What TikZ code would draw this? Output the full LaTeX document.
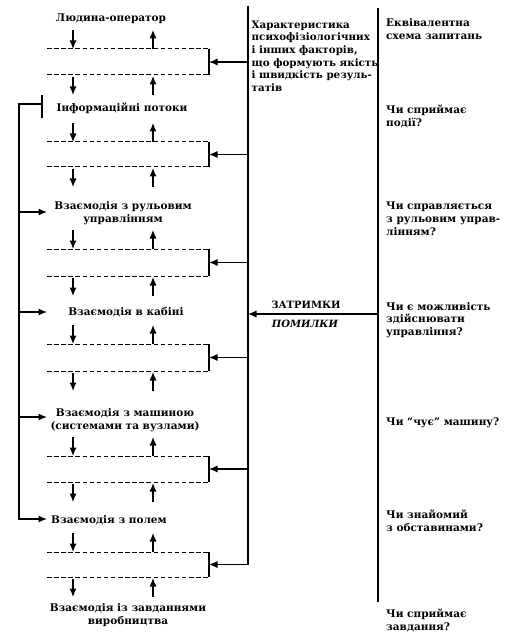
\documentclass[tikz,border=0pt]{standalone}
\usepackage{fontspec}
\setmainfont{DejaVu Serif}
\usetikzlibrary{arrows.meta}
\begin{document}
\begin{tikzpicture}[x=1pt,y=-1pt,
  ln/.style={line width=1.1pt},
  arr/.style={ln,-{Latex[length=8.5pt,width=7pt]}},
  dsh/.style={line width=1pt,dash pattern=on 4.5pt off 2.6pt},
  lbl/.style={font=\fontsize{10.5}{13}\selectfont\bfseries,align=center,inner sep=0pt},
  elbl/.style={font=\fontsize{10}{12}\selectfont\bfseries,inner sep=0pt},
  rlbl/.style={font=\fontsize{10.5}{12.6}\selectfont\bfseries,align=left,inner sep=0pt,anchor=north west},
  mlbl/.style={font=\fontsize{10.3}{12.6}\selectfont\bfseries,align=left,inner sep=0pt,anchor=north west}]
\useasboundingbox (0,0) rectangle (506,636);

% bands
\foreach \i/\yt/\yb in {1/49/75,2/142/167,3/249/276,4/344/371,5/456/482,6/552/577}{
  \coordinate (dtl\i) at (47,\yt);
  \coordinate (dtr\i) at (209,\yt);
  \coordinate (dbl\i) at (47,\yb);
  \coordinate (dbr\i) at (209,\yb);
  \draw[dsh] (dtl\i) -- (dtr\i);
  \draw[dsh] (dbl\i) -- (dbr\i);
  \draw[ln] (dtr\i) -- (dbr\i);
  \coordinate (bm\i) at (209,{(\yt+\yb)/2});
  \coordinate (mm\i) at (248,{(\yt+\yb)/2});
  \draw[arr] (mm\i) -- (bm\i);
  % arrows above
  \coordinate (ad\i) at (73,\yt-19);
  \coordinate (adt\i) at (73,\yt);
  \coordinate (au\i) at (153,\yt);
  \coordinate (aut\i) at (153,\yt-19);
  \draw[arr] (ad\i) -- (adt\i);
  \draw[arr] (au\i) -- (aut\i);
  % arrows below
  \coordinate (bd\i) at (73,\yb+2);
  \coordinate (bdt\i) at (73,\yb+20);
  \coordinate (bu\i) at (153,\yb+20);
  \coordinate (but\i) at (153,\yb+1);
  \draw[arr] (bd\i) -- (bdt\i);
  \draw[arr] (bu\i) -- (but\i);
}

% left labels
\node[lbl] (t0) at (111,19) {Людина-оператор};
\node[lbl] (t1) at (122,108) {Інформаційні потоки};
\node[lbl] (t2) at (123,213) {Взаємодія з рульовим\\управлінням};
\node[lbl] (t3) at (126,312) {Взаємодія в кабіні};
\node[lbl] (t4) at (125,420) {Взаємодія з машиною\\(системами та вузлами)};
\node[lbl] (t5) at (109,520) {Взаємодія з полем};
\node[lbl] (t6) at (128,615) {Взаємодія із завданнями\\виробництва};

% vertical lines
\coordinate (mtop) at (248,6);
\draw[ln] (mtop) -- (mm6);
\coordinate (rtop) at (378,8);
\coordinate (rbot) at (378,602);
\draw[ln] (rtop) -- (rbot);

% delays / errors
\coordinate (rz) at (378,314);
\coordinate (mz) at (248,314);
\draw[arr] (rz) -- (mz);
\node[elbl] (zat) at (306,305) {ЗАТРИМКИ};
\node[elbl,font=\fontsize{10}{12}\selectfont\bfseries\itshape] (pom) at (305,324) {ПОМИЛКИ};

% left feedback
\coordinate (tk1) at (42,95);
\coordinate (tk2) at (42,118);
\draw[ln] (tk1) -- (tk2);
\coordinate (fb0) at (42,104);
\coordinate (fbc) at (19,104);
\coordinate (fbe) at (19,519);
\coordinate (fa5) at (47,519);
\draw[arr] (fb0) -- (fbc) -- (fbe) -- (fa5);
\foreach \k/\y in {2/212,3/312,4/417}{
  \coordinate (fs\k) at (19,\y);
  \coordinate (fa\k) at (47,\y);
  \draw[arr] (fs\k) -- (fa\k);
}

% middle text
\node[mlbl] (mid) at (251.5,20.5) {Характеристика\\психофізіологічних\\і інших факторів,\\що формують якість\\і швидкість резуль-\\татів};

% right texts
\node[rlbl] (q0) at (386,18.5) {Еквівалентна\\схема запитань};
\node[rlbl] (q1) at (386,105) {Чи сприймає\\події?};
\node[rlbl] (q2) at (386,202) {Чи справляється\\з рульовим управ-\\лінням?};
\node[rlbl] (q3) at (386,302) {Чи є можливість\\здійснювати\\управління?};
\node[rlbl] (q4) at (386,418) {Чи “чує” машину?};
\node[rlbl] (q5) at (386,510) {Чи знайомий\\з обставинами?};
\node[rlbl] (q6) at (386,609) {Чи сприймає\\завдання?};
\end{tikzpicture}
\end{document}
